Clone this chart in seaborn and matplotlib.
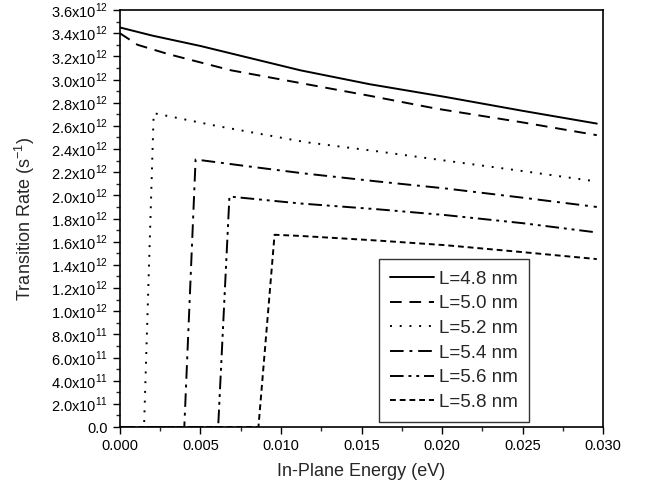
import numpy as np
import pandas as pd
import matplotlib
matplotlib.use("Agg")
import matplotlib.pyplot as plt
import seaborn as sns
from matplotlib.ticker import MultipleLocator, FuncFormatter

# ---- data ----
labels = ["L=4.8 nm", "L=5.0 nm", "L=5.2 nm", "L=5.4 nm", "L=5.6 nm", "L=5.8 nm"]

x_48 = [0.0, 0.002, 0.005, 0.0112, 0.0155, 0.0202, 0.025, 0.0296]
y_48 = [3.45e12, 3.38e12, 3.29e12, 3.08e12, 2.96e12, 2.85e12, 2.73e12, 2.62e12]

x_50 = [0.0, 0.0011, 0.003, 0.0069, 0.0112, 0.0155, 0.0196, 0.025, 0.0296]
y_50 = [3.40e12, 3.30e12, 3.22e12, 3.08e12, 2.97e12, 2.86e12, 2.75e12, 2.63e12, 2.52e12]

x_52 = [0.0, 0.0015, 0.0021, 0.006, 0.0115, 0.0160, 0.0202, 0.025, 0.0296]
y_52 = [0.0, 0.0, 2.71e12, 2.60e12, 2.46e12, 2.38e12, 2.30e12, 2.21e12, 2.12e12]

x_54 = [0.0, 0.0040, 0.0047, 0.008, 0.0114, 0.0160, 0.0202, 0.025, 0.0296]
y_54 = [0.0, 0.0, 2.31e12, 2.25e12, 2.19e12, 2.12e12, 2.06e12, 1.98e12, 1.90e12]

x_56 = [0.0, 0.0061, 0.0068, 0.0112, 0.0160, 0.0202, 0.025, 0.0296]
y_56 = [0.0, 0.0, 1.99e12, 1.93e12, 1.88e12, 1.83e12, 1.76e12, 1.68e12]

x_58 = [0.0, 0.0086, 0.0096, 0.0112, 0.0160, 0.0202, 0.025, 0.0296]
y_58 = [0.0, 0.0, 1.66e12, 1.65e12, 1.61e12, 1.57e12, 1.51e12, 1.45e12]

xs = [x_48, x_50, x_52, x_54, x_56, x_58]
ys = [y_48, y_50, y_52, y_54, y_56, y_58]

styles = ["-", (0, (6, 4)), (0, (1, 4)), (0, (7, 3, 1.5, 3)), (0, (7, 2.5, 1.5, 2.5, 1.5, 2.5)), (0, (3, 2))]

sns.set_theme(style="ticks")
plt.rcParams["font.family"] = ["Liberation Sans", "DejaVu Sans"]
plt.rcParams["mathtext.fontset"] = "custom"
plt.rcParams["mathtext.rm"] = "Liberation Sans"

fig = plt.figure(figsize=(6.55, 4.94), dpi=100)
ax = fig.add_axes([0.183, 0.1356, 0.738, 0.844])

for xv, yv, lab, ls in zip(xs, ys, labels, styles):
    df = pd.DataFrame({"x": xv, "y": yv})
    sns.lineplot(data=df, x="x", y="y", ax=ax, color="black", linewidth=1.4,
                 linestyle=ls, label=lab, estimator=None, sort=False)

ax.set_xlim(0, 0.030)
ax.set_ylim(0, 3.6e12)
ax.xaxis.set_major_locator(MultipleLocator(0.005))
ax.xaxis.set_minor_locator(MultipleLocator(0.0025))
ax.yaxis.set_major_locator(MultipleLocator(0.2e12))
ax.yaxis.set_minor_locator(MultipleLocator(0.1e12))

def yfmt(v, pos):
    if abs(v) < 1e3:
        return "0.0"
    e = int(np.floor(np.log10(abs(v)) + 1e-9))
    m = v / 10**e
    return f"{m:.1f}x10$^{{{e}}}$"

ax.yaxis.set_major_formatter(FuncFormatter(yfmt))
ax.xaxis.set_major_formatter(FuncFormatter(lambda v, p: f"{v:.3f}"))

ax.tick_params(axis="both", which="major", direction="out", length=5, width=1, labelsize=10.5, colors="black")
ax.tick_params(axis="both", which="minor", direction="out", length=3, width=1)
for s in ax.spines.values():
    s.set_linewidth(1.2)
    s.set_color("black")

ax.set_xlabel("In-Plane Energy (eV)", fontsize=13, labelpad=7)
ax.set_ylabel("Transition Rate (s$^{-1}$)", fontsize=13, labelpad=10)

leg = ax.legend(loc="lower right", bbox_to_anchor=(0.847, 0.012), frameon=True, fancybox=False,
                edgecolor="black", fontsize=13.5, handlelength=2.35, handletextpad=0.27,
                borderpad=0.6, labelspacing=0.4, borderaxespad=0)
leg.get_frame().set_linewidth(1.0)

fig.savefig("out.png", dpi=100)
